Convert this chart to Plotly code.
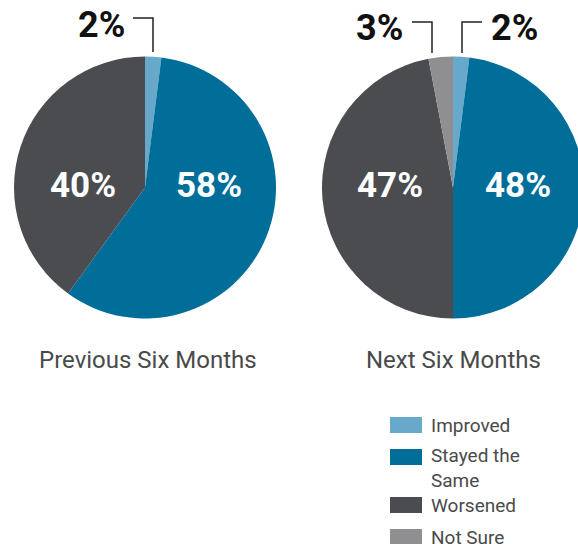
import plotly.graph_objects as go

categories = ["Improved", "Stayed the Same", "Worsened", "Not Sure"]
colors = ["#68a9cb", "#006e99", "#4b4c50", "#8f8f91"]

previous_values = [2, 58, 40, 0]
next_values = [2, 48, 47, 3]

pie_titles = ["Previous Six Months", "Next Six Months"]

W, H = 590, 544
FONT = "Roboto"
TEXT_GREY = "#4a4a4a"


def px(x):
    return x / W


def py(y):
    return 1 - y / H


fig = go.Figure()

# two pies, clockwise from 12 o'clock
for vals, (cx, cy) in [(previous_values, (145, 187.5)), (next_values, (453, 187.5))]:
    r = 131
    fig.add_trace(go.Pie(
        labels=categories,
        values=vals,
        marker=dict(colors=colors, line=dict(width=0)),
        sort=False,
        direction="clockwise",
        rotation=0,
        textinfo="none",
        hoverinfo="label+percent",
        showlegend=False,
        domain=dict(x=[px(cx - r), px(cx + r)], y=[py(cy + r), py(cy - r)]),
    ))

annotations = []

# big labels inside the slices
inside = [
    (previous_values[2], 83, 185),
    (previous_values[1], 209, 185),
    (next_values[2], 390, 185),
    (next_values[1], 518, 185),
]
for v, x, y in inside:
    annotations.append(dict(x=px(x), y=py(y), xref="paper", yref="paper", text=f"{v}%",
                            xanchor="center", yanchor="middle", showarrow=False,
                            font=dict(family=FONT, size=35, color="white", weight="bold")))

# small slice labels outside with bracket leader lines
outside = [
    (previous_values[0], 101, 25),
    (next_values[3], 380, 28),
    (next_values[0], 514, 28),
]
for v, x, y in outside:
    annotations.append(dict(x=px(x), y=py(y), xref="paper", yref="paper", text=f"{v}%",
                            xanchor="center", yanchor="middle", showarrow=False,
                            font=dict(family=FONT, size=36, color="#111111", weight="bold")))

shapes = []
leaders = [
    [(133, 18), (153, 18), (153, 52)],
    [(412, 22), (432, 22), (432, 53)],
    [(482, 22), (462, 22), (462, 53)],
]
for pts in leaders:
    path = "M " + " L ".join(f"{px(x)},{py(y)}" for x, y in pts)
    shapes.append(dict(type="path", path=path, xref="paper", yref="paper",
                       line=dict(color="#222222", width=1.5)))

# titles under the pies
for t, x in zip(pie_titles, [148, 453]):
    annotations.append(dict(x=px(x), y=py(360), xref="paper", yref="paper", text=t,
                            xanchor="center", yanchor="middle", showarrow=False,
                            font=dict(family=FONT, size=24, color=TEXT_GREY)))

# legend drawn by hand (wide swatches)
legend_rows = [425, 457, 505, 537]
legend_text = ["Improved", "Stayed the<br>Same", "Worsened", "Not Sure"]
legend_text_y = [425, 468, 505, 537]
for cat, txt, col, yy, ty in zip(categories, legend_text, colors, legend_rows, legend_text_y):
    shapes.append(dict(type="rect", xref="paper", yref="paper",
                       x0=px(390), x1=px(422), y0=py(yy + 8), y1=py(yy - 8),
                       fillcolor=col, line=dict(width=0)))
    annotations.append(dict(x=px(429), y=py(ty), xref="paper", yref="paper", text=txt,
                            xanchor="left", yanchor="middle", align="left", showarrow=False,
                            font=dict(family=FONT, size=19, color=TEXT_GREY)))

fig.update_layout(
    width=W, height=H,
    margin=dict(l=0, r=0, t=0, b=0),
    paper_bgcolor="white",
    plot_bgcolor="white",
    annotations=annotations,
    shapes=shapes,
)

fig.write_html("out.html", config={"displayModeBar": False},
               post_script="document.body.style.margin='0';document.body.style.overflow='hidden';")
